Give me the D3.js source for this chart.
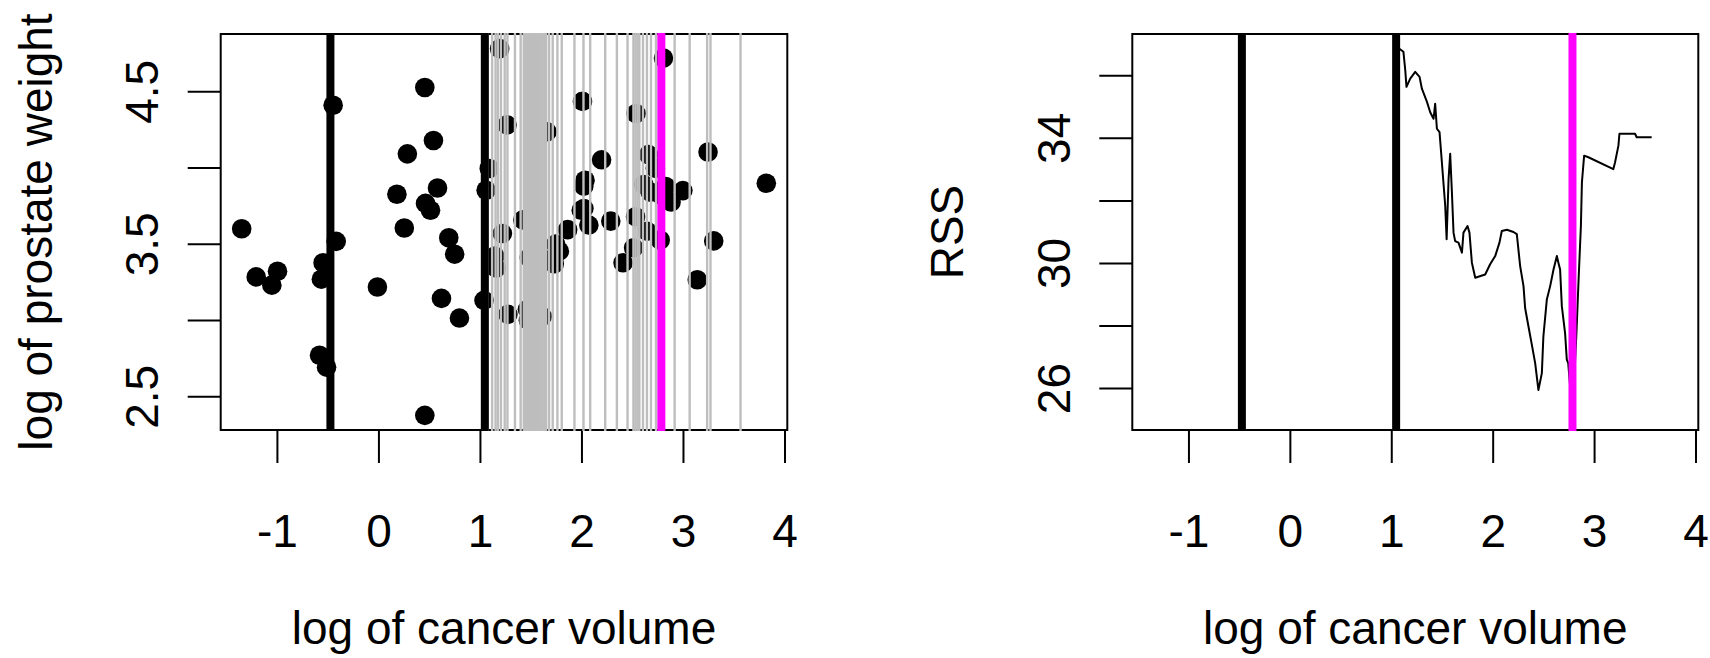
<!DOCTYPE html>
<html><head><meta charset="utf-8">
<script src="https://cdn.jsdelivr.net/npm/d3@7"></script>
<style>
body{margin:0;background:#fff}
svg{display:block}
text{font-family:"Liberation Sans",Arial,sans-serif;fill:#000}
</style>
</head><body>
<svg id="c" width="1710" height="658"></svg>
<script>
// ---- data ----
const lcavol = [-1.347,-1.204,-1.050,-0.994,-0.580,-0.511,-0.562,-0.545,-0.416,-0.446,-0.010,0.182,0.255,0.285,0.457,0.464,0.513,0.542,0.582,0.457,0.621,0.693,0.751,0.798,1.040,1.061,1.092,
1.147,1.160,1.194,1.221,1.267,1.275,1.423,1.468,1.477,1.486,1.541,1.562,1.613,1.660,1.664,1.732,1.746,1.782,1.864,1.998,2.010,2.023,2.024,2.035,2.073,2.198,2.289,2.410,2.514,2.533,2.538,2.613,2.648,2.661,2.678,2.728,2.776,2.779,2.808,2.830,2.883,2.999,3.141,3.247,3.303,3.821];
const lweight = [3.599,3.283,3.229,3.320,2.769,2.691,3.268,3.376,3.516,4.409,3.217,3.825,3.604,4.090,4.525,3.765,3.720,4.178,3.866,2.375,3.142,3.540,3.432,3.013,3.129,3.851,3.994,
3.419,3.341,4.780,3.568,4.280,3.037,3.657,3.070,2.998,3.409,3.061,3.710,3.023,4.235,3.393,3.369,3.498,3.452,3.593,3.720,4.434,3.878,3.732,3.917,3.623,4.051,3.649,3.376,3.474,3.678,4.355,3.889,3.582,4.085,3.839,3.995,3.525,3.823,4.718,3.876,3.774,3.849,3.264,4.102,3.519,3.897];
const fixedSplits = [-0.473, 1.048];
const bestSplit = [2.787];
const candidateSplits = [1.077,1.12,1.154,1.177,1.207,1.244,1.271,1.345,1.401,
  1.432,1.452,1.472,1.492,1.512,1.532,1.552,1.572,1.592,1.612,1.632,1.652,
  1.681,1.717,1.763,1.806,1.931,2.02,2.086,2.234,2.349,2.454,
  2.512,2.532,2.552,2.570,
  2.606,2.645,2.685,2.734,2.918,3.066,3.238,3.271,3.567];
const rssX = [1.08,1.12,1.138,1.15,1.187,1.236,1.279,1.302,1.352,1.384,1.417,1.433,1.45,1.476,1.499,1.532,1.546,1.565,1.581,1.598,1.614,1.63,1.663,1.697,1.712,1.752,1.771,1.795,1.828,1.926,1.975,2.025,2.067,2.09,2.14,2.205,2.238,2.271,2.304,2.32,2.353,2.386,2.419,2.451,2.485,2.5,2.534,2.567,2.6,2.633,2.648,2.665,2.682,2.714,2.731,2.745,2.787,2.826,2.85,2.87,2.88,2.902,2.944,3.19,3.207,3.24,3.25,3.404,3.42,3.568];
const rssY = [36.85,36.75,36.16,35.63,35.89,36.11,35.95,35.57,35.15,34.82,34.61,35.09,34.29,34.18,33.22,31.83,30.76,32.68,33.49,32.26,30.97,30.70,30.65,30.33,30.97,31.18,30.97,30.01,29.53,29.63,29.96,30.22,30.65,31.02,31.06,30.99,30.92,29.90,29.26,28.56,27.97,27.39,26.80,25.94,26.48,27.65,28.83,29.26,29.79,30.22,30.01,29.79,28.62,27.76,26.91,26.80,25.13,27.76,29.69,31.18,32.58,33.43,33.38,33.0,33.22,33.75,34.13,34.13,34.02,34.02];
const xTicks = [-1,0,1,2,3,4];
const xTickLabels = ["-1","0","1","2","3","4"];
const yTicksLeft = [2.5,3,3.5,4,4.5];
const yTickLabelsLeft = ["2.5","","3.5","","4.5"];
const yTicksRight = [26,28,30,32,34,36];
const yTickLabelsRight = ["26","","30","","34",""];
const xTitle = "log of cancer volume";
const yTitleLeft = "log of prostate weight";
const yTitleRight = "RSS";

// ---- layout ----
const FS = 46;
const TOP = 34, BOT = 430;
const panels = [{x0:220.7, x1:787.3},{x0:1132.3, x1:1698.3}];
const TICK = 33;
const svg = d3.select("#c");

function pad(ext){const r=ext[1]-ext[0];return [ext[0]-0.04*r, ext[1]+0.04*r];}
const xDom = pad(d3.extent(lcavol));

function panel(p, yDom, yTicks, yLabels, yTitle){
  const x = d3.scaleLinear().domain(xDom).range([p.x0,p.x1]);
  const y = d3.scaleLinear().domain(yDom).range([BOT,TOP]);
  const g = svg.append("g");
  const cid = "clip"+Math.round(p.x0);
  svg.append("clipPath").attr("id",cid).append("rect")
    .attr("x",p.x0).attr("y",TOP-1).attr("width",p.x1-p.x0).attr("height",BOT-TOP+2);
  const ax = d3.axisBottom(x).tickValues(xTicks).tickSize(TICK).tickSizeOuter(0)
      .tickFormat((d,i)=>xTickLabels[i]);
  const gx = g.append("g").attr("transform",`translate(0,${BOT})`).call(ax);
  gx.select(".domain").remove();
  gx.selectAll("line").attr("stroke","#000").attr("stroke-width",2);
  gx.selectAll("text").attr("font-size",FS).attr("fill","#000").attr("dy",null)
    .attr("y",101 + 0.358*FS);
  const ay = d3.axisLeft(y).tickValues(yTicks).tickSize(TICK).tickSizeOuter(0)
      .tickFormat((d,i)=>yLabels[i]);
  const gy = g.append("g").attr("transform",`translate(${p.x0},0)`).call(ay);
  gy.select(".domain").remove();
  gy.selectAll("line").attr("stroke","#000").attr("stroke-width",2);
  gy.selectAll("text").attr("font-size",FS).attr("fill","#000")
    .attr("x",null).attr("dy","0.358em").attr("text-anchor","middle")
    .attr("transform","translate(-79,0) rotate(-90)");
  g.append("text").attr("font-size",FS).attr("text-anchor","middle")
    .attr("x",(p.x0+p.x1)/2).attr("y",644).text(xTitle);
  g.append("text").attr("font-size",FS).attr("text-anchor","middle")
    .attr("transform",`translate(${p.x0-183},${(TOP+BOT)/2}) rotate(-90)`)
    .attr("dy","0.30em").text(yTitle);
  g.append("rect").attr("x",p.x0).attr("y",TOP).attr("width",p.x1-p.x0)
    .attr("height",BOT-TOP).attr("fill","none").attr("stroke","#000").attr("stroke-width",2);
  const plot = g.append("g").attr("clip-path",`url(#${cid})`);
  return {x,y,g,plot};
}

function vlines(P, data, cls, color, w){
  P.plot.selectAll("line."+cls).data(data).join("line").attr("class",cls)
    .attr("x1",d=>P.x(d)).attr("x2",d=>P.x(d)).attr("y1",TOP-1).attr("y2",BOT+1)
    .attr("stroke",color).attr("stroke-width",w);
}

// left panel
const L = panel(panels[0], pad(d3.extent(lweight)), yTicksLeft, yTickLabelsLeft, yTitleLeft);
L.plot.selectAll("circle").data(lcavol).join("circle")
  .attr("cx",d=>L.x(d)).attr("cy",(d,i)=>L.y(lweight[i])).attr("r",9.8).attr("fill","#000");
vlines(L, candidateSplits, "cand", "#BEBEBE", 2.4);
vlines(L, fixedSplits, "fix", "#000", 8);
vlines(L, bestSplit, "best", "#FF00FF", 8);

// right panel
const R = panel(panels[1], pad(d3.extent(rssY)), yTicksRight, yTickLabelsRight, yTitleRight);
const line = d3.line().x((d,i)=>R.x(rssX[i])).y(d=>R.y(d));
R.plot.append("path").datum(rssY).attr("d",line).attr("fill","none")
  .attr("stroke","#000").attr("stroke-width",2).attr("stroke-linejoin","round");
vlines(R, fixedSplits, "fix", "#000", 8);
vlines(R, bestSplit, "best", "#FF00FF", 8);
</script>
</body></html>
